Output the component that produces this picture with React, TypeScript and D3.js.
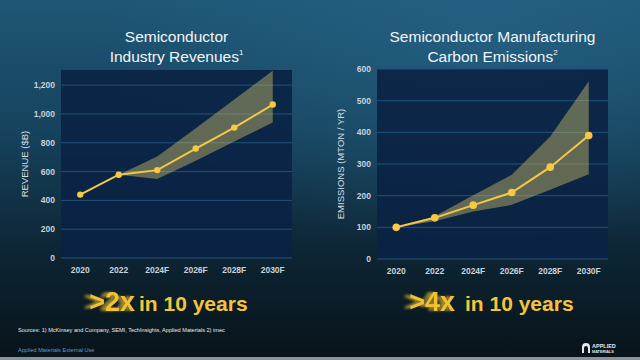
import { useMemo } from 'react';
import * as d3 from 'd3';

const years = ['2020', '2022', '2024F', '2026F', '2028F', '2030F'];

const revenue = [440, 578, 610, 760, 905, 1065];
const revenueHigh = [null, 578, 705, 900, 1100, 1300];
const revenueLow = [null, 578, 548, 675, 808, 940];
const revenueTicks = [0, 200, 400, 600, 800, 1000, 1200];

const emissions = [100, 130, 170, 210, 290, 390];
const emissionsHigh = [100, 135, 201, 266, 387, 561];
const emissionsLow = [100, 119, 150, 171, 219, 268];
const emissionsTicks = [0, 100, 200, 300, 400, 500, 600];

const FONT = "Arial, 'Liberation Sans', sans-serif";
const YELLOW = '#f6c843';

type Panel = {
  left: number;
  right: number;
  top: number;
  bottom: number;
  max: number;
  ticks: number[];
  fmt: (v: number) => string;
  values: number[];
  high: (number | null)[];
  low: (number | null)[];
  title: string[];
  sup: string;
  yLabel: string;
  r: number;
};

function LineBand({ p }: { p: Panel }) {
  const x = d3.scaleBand<string>().domain(years).range([p.left, p.right]);
  const cx = (d: string) => (x(d) ?? 0) + x.bandwidth() / 2;
  const y = d3.scaleLinear().domain([0, p.max]).range([p.bottom, p.top]);

  const bandData = years
    .map((yr, i) => ({ yr, hi: p.high[i], lo: p.low[i] }))
    .filter(d => d.hi != null && d.lo != null);
  const area = d3
    .area<{ yr: string; hi: number | null; lo: number | null }>()
    .x(d => cx(d.yr))
    .y0(d => y(d.lo as number))
    .y1(d => y(d.hi as number));
  const line = d3
    .line<number>()
    .x((_, i) => cx(years[i]))
    .y(d => y(d));

  const titleX = (p.left + p.right) / 2;
  const yMid = (p.top + p.bottom) / 2;

  return (
    <g>
      {/* title */}
      <text x={titleX} y={42} textAnchor="middle" fill="#f2f5f8" fontFamily={FONT} fontSize={15.5}>
        {p.title[0]}
      </text>
      <text x={titleX} y={62} textAnchor="middle" fill="#f2f5f8" fontFamily={FONT} fontSize={15.5}>
        {p.title[1]}
        <tspan fontSize={8} dy={-7}>{p.sup}</tspan>
      </text>

      {/* plot bg */}
      <rect x={p.left} y={p.top} width={p.right - p.left} height={p.bottom - p.top} fill="#0b2344" fillOpacity={0.92} />

      {p.ticks.map(t => (
        <g key={t}>
          <line x1={p.left} x2={p.right} y1={y(t)} y2={y(t)} stroke="#21527a" strokeWidth={1} />
          <text
            x={p.left - 6}
            y={y(t)}
            dy="0.35em"
            textAnchor="end"
            fill="#c9d2da"
            fontFamily={FONT}
            fontSize={8.5}
            fontWeight="bold"
          >
            {p.fmt(t)}
          </text>
        </g>
      ))}

      {years.map(yr => (
        <text
          key={yr}
          x={cx(yr)}
          y={p.bottom + 15}
          textAnchor="middle"
          fill="#c9d2da"
          fontFamily={FONT}
          fontSize={8.5}
          fontWeight="bold"
        >
          {yr}
        </text>
      ))}

      <text
        transform={`translate(${p.left - 36},${yMid}) rotate(-90)`}
        textAnchor="middle"
        dy="0.35em"
        fill="#d6dde3"
        fontFamily={FONT}
        fontSize={9.5}
      >
        {p.yLabel}
      </text>

      <path d={area(bandData) ?? ''} fill="#d9c76c" fillOpacity={0.42} />
      <path d={line(p.values) ?? ''} fill="none" stroke={YELLOW} strokeWidth={2} />
      {p.values.map((v, i) => (
        <circle key={i} cx={cx(years[i])} cy={y(v)} r={p.r} fill={YELLOW} />
      ))}
    </g>
  );
}

function Slogan({ bigEnd, restStart, big, rest }: { bigEnd: number; restStart: number; big: string; rest: string }) {
  return (
    <g fontFamily={FONT} fontWeight="bold">
      {/* motion-blur trail is done in the filter so the word stays one text */}
      <text x={bigEnd} y={311} textAnchor="end" fontSize={27} fill="#f0c232" filter="url(#trail)">
        {big}
      </text>
      <text x={restStart} y={311} fontSize={21} fill="#f3c53a">
        {rest}
      </text>
    </g>
  );
}

export default function App() {
  const panels: Panel[] = useMemo(
    () => [
      {
        left: 61,
        right: 292,
        top: 70,
        bottom: 258,
        max: 1305,
        ticks: revenueTicks,
        fmt: d3.format(','),
        values: revenue,
        high: revenueHigh,
        low: revenueLow,
        title: ['Semiconductor', 'Industry Revenues'],
        sup: '1',
        yLabel: 'REVENUE ($B)',
        r: 3.2,
      },
      {
        left: 377,
        right: 608,
        top: 69,
        bottom: 259,
        max: 600,
        ticks: emissionsTicks,
        fmt: d3.format('d'),
        values: emissions,
        high: emissionsHigh,
        low: emissionsLow,
        title: ['Semiconductor Manufacturing', 'Carbon Emissions'],
        sup: '2',
        yLabel: 'EMISSIONS (MTON / YR)',
        r: 3.8,
      },
    ],
    []
  );

  return (
    <div style={{ position: 'absolute', left: 0, top: 0 }}>
      <svg width={640} height={360} style={{ display: 'block' }}>
        <defs>
          <linearGradient id="bg" x1="0" y1="0" x2="0" y2="1">
            <stop offset="0%" stopColor="#1f5676" />
            <stop offset="35%" stopColor="#16445f" />
            <stop offset="70%" stopColor="#0d2534" />
            <stop offset="100%" stopColor="#081319" />
          </linearGradient>
          <radialGradient id="glow" cx="0.75" cy="0.1" r="0.6">
            <stop offset="0%" stopColor="#2a6a8e" stopOpacity={0.5} />
            <stop offset="100%" stopColor="#2a6a8e" stopOpacity={0} />
          </radialGradient>
          <filter id="trail" x="-30%" y="-20%" width="150%" height="140%">
            <feColorMatrix in="SourceGraphic" type="matrix"
              values="0.8 0 0 0 0  0 0.8 0 0 0  0 0 0.8 0 0  0 0 0 0.4 0" result="dim" />
            <feOffset in="dim" dx="-2" result="o1" />
            <feOffset in="dim" dx="-4" result="o2" />
            <feOffset in="dim" dx="-6" result="o3" />
            <feMerge result="m">
              <feMergeNode in="o3" />
              <feMergeNode in="o2" />
              <feMergeNode in="o1" />
            </feMerge>
            <feGaussianBlur in="m" stdDeviation="1" result="b" />
            <feMerge>
              <feMergeNode in="b" />
              <feMergeNode in="SourceGraphic" />
            </feMerge>
          </filter>
        </defs>
        <rect width={640} height={360} fill="url(#bg)" />
        <rect width={640} height={360} fill="url(#glow)" />

        {panels.map((p, i) => (
          <LineBand key={i} p={p} />
        ))}

        <Slogan bigEnd={135} restStart={139} big=">2x" rest="in 10 years" />
        <Slogan bigEnd={455} restStart={465} big=">4x" rest="in 10 years" />

        <text x={18} y={332} fill="#e8ecef" fontFamily={FONT} fontSize={5.6}>
          Sources: 1) McKinsey and Company, SEMI, TechInsights, Applied Materials  2) imec
        </text>
        <text x={18} y={352} fill="#5b9fd0" fontFamily={FONT} fontSize={5.6}>
          Applied Materials External Use
        </text>

        {/* logo */}
        <g transform="translate(582,343)">
          <path d="M0,10 V4 A4,4 0 0 1 8,4 V10 H6 V5 A2,2 0 0 0 2,5 V10 Z" fill="#e6e9ec" />
          <text x={10} y={5} fill="#e6e9ec" fontFamily={FONT} fontSize={5.5} fontWeight="bold">APPLIED</text>
          <text x={10} y={10} fill="#e6e9ec" fontFamily={FONT} fontSize={3.8} fontWeight="bold">MATERIALS</text>
        </g>

        <rect x={0} y={357} width={640} height={3} fill="#8a9399" />
      </svg>
    </div>
  );
}
